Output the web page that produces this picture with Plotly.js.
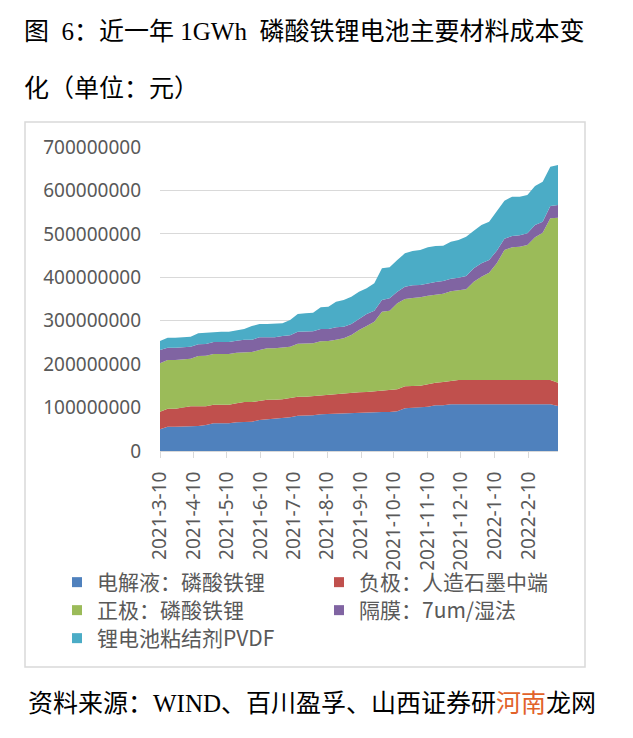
<!DOCTYPE html>
<html><head><meta charset="utf-8">
<script src="https://cdn.plot.ly/plotly-3.0.1.min.js"></script>
<style>html,body{margin:0;padding:0;background:#fff;} #chart{width:633px;height:738px;}</style>
</head><body><div id="chart"></div>
<script>
// weekly sample dates
const dates = ['2021-03-10','2021-03-17','2021-03-24','2021-03-31','2021-04-07','2021-04-14','2021-04-21','2021-04-28',
'2021-05-05','2021-05-12','2021-05-19','2021-05-26','2021-06-02','2021-06-09','2021-06-16','2021-06-23','2021-06-30',
'2021-07-07','2021-07-14','2021-07-21','2021-07-28','2021-08-04','2021-08-11','2021-08-18','2021-08-25',
'2021-09-01','2021-09-08','2021-09-15','2021-09-22','2021-09-29','2021-10-06','2021-10-13','2021-10-20','2021-10-27',
'2021-11-03','2021-11-10','2021-11-17','2021-11-24','2021-12-01','2021-12-08','2021-12-15','2021-12-22','2021-12-29',
'2022-01-05','2022-01-12','2022-01-19','2022-01-26','2022-02-02','2022-02-09','2022-02-16','2022-02-23','2022-03-02','2022-03-09'];

// 电解液：磷酸铁锂
const electrolyte = [49.9e6,56.0e6,56.0e6,56.0e6,56.0e6,57.6e6,59.9e6,63.7e6,63.7e6,63.7e6,66.0e6,67.5e6,67.5e6,71.4e6,72.9e6,72.9e6,74.4e6,
77.5e6,81.4e6,81.4e6,82.1e6,84.4e6,85.2e6,86.0e6,86.7e6,87.5e6,88.3e6,88.3e6,89.8e6,89.8e6,89.8e6,91.3e6,98.2e6,99.8e6,
99.8e6,102.1e6,105.2e6,105.2e6,107.5e6,107.5e6,107.5e6,107.5e6,107.5e6,107.5e6,107.5e6,107.5e6,107.5e6,107.5e6,107.5e6,
107.5e6,107.5e6,107.5e6,103.6e6];
// 负极：人造石墨中端
const anode = [40.7e6,41.5e6,41.5e6,44.5e6,46.8e6,45.2e6,42.9e6,43.0e6,43.0e6,43.0e6,43.8e6,45.3e6,45.3e6,44.5e6,45.3e6,45.3e6,44.6e6,
44.5e6,43.7e6,43.7e6,44.5e6,44.5e6,44.5e6,46.0e6,46.8e6,46.0e6,46.8e6,47.5e6,47.6e6,49.1e6,49.1e6,50.7e6,50.7e6,49.9e6,
50.6e6,51.4e6,52.1e6,53.7e6,54.4e6,56.0e6,56.0e6,56.0e6,56.0e6,56.0e6,56.0e6,56.0e6,56.0e6,56.0e6,56.0e6,
56.0e6,56.0e6,56.0e6,53.7e6];
// 正极：磷酸铁锂
const cathode = [111.3e6,112.0e6,112.0e6,110.6e6,109.8e6,115.9e6,116.7e6,116.6e6,116.6e6,116.6e6,116.6e6,115.2e6,115.2e6,116.7e6,118.2e6,118.2e6,119.7e6,
118.2e6,122.0e6,122.0e6,121.3e6,123.6e6,123.6e6,124.3e6,125.9e6,133.6e6,143.5e6,152.0e6,160.4e6,181.9e6,184.2e6,198.0e6,201.1e6,202.6e6,
203.4e6,204.2e6,203.4e6,203.4e6,205.7e6,205.7e6,208.7e6,226.4e6,237.9e6,247.1e6,268.6e6,299.3e6,305.4e6,307.0e6,310.8e6,
328.5e6,339.2e6,372.2e6,380.0e6];
// 隔膜：7um/湿法
const separator = [30.7e6,28.4e6,28.4e6,28.4e6,27.6e6,26.9e6,26.9e6,27.7e6,27.7e6,27.7e6,27.6e6,28.3e6,28.3e6,29.1e6,25.3e6,25.3e6,26.1e6,
26.1e6,27.7e6,27.7e6,27.6e6,28.4e6,27.6e6,28.4e6,26.9e6,25.3e6,24.6e6,27.6e6,25.0e6,26.9e6,28.4e6,26.9e6,28.4e6,29.2e6,
28.4e6,28.4e6,28.4e6,29.1e6,29.2e6,29.9e6,30.7e6,30.7e6,30.7e6,29.2e6,29.2e6,26.0e6,26.1e6,26.1e6,26.9e6,
28.4e6,25.4e6,28.4e6,29.1e6];
// 锂电池粘结剂PVDF
const binder = [20.7e6,23.1e6,23.1e6,23.0e6,23.1e6,25.3e6,26.1e6,23.8e6,23.8e6,23.8e6,24.6e6,24.6e6,31.5e6,30.7e6,30.7e6,30.7e6,29.2e6,
35.3e6,40.6e6,42.2e6,43.0e6,49.9e6,51.4e6,59.1e6,61.4e6,63.0e6,63.7e6,59.1e6,63.3e6,72.9e6,71.4e6,72.9e6,76.7e6,79.0e6,
80.6e6,82.8e6,82.9e6,81.4e6,85.2e6,86.7e6,90.6e6,86.7e6,88.3e6,88.3e6,89.8e6,87.6e6,90.6e6,89.0e6,88.3e6,
89.8e6,92.1e6,90.6e6,92.1e6];

const seriesNames = ['电解液：磷酸铁锂','负极：人造石墨中端','正极：磷酸铁锂','隔膜：7um/湿法','锂电池粘结剂PVDF'];
const tickDates = ['2021-03-10','2021-04-10','2021-05-10','2021-06-10','2021-07-10','2021-08-10','2021-09-10','2021-10-10',
'2021-11-10','2021-12-10','2022-01-10','2022-02-10'];
const tickLabels = ['2021-3-10','2021-4-10','2021-5-10','2021-6-10','2021-7-10','2021-8-10','2021-9-10','2021-10-10',
'2021-11-10','2021-12-10','2022-1-10','2022-2-10'];
const yTicks = [0,100000000,200000000,300000000,400000000,500000000,600000000,700000000];

const colors = ['#4F81BD','#C0504D','#9BBB59','#8064A2','#4BACC6'];
const series = [electrolyte, anode, cathode, separator, binder];

// pixel helpers for paper coords (plot area: x 160..558, y 147..451)
const L=160, R=558, T=147, B=451;
const px = v => (v-L)/(R-L);
const py = v => (B-v)/(B-T);

// legend slot for each series: [left px, top px]  (two columns, three rows)
const legendSlots = [[57,562],[319,562],[57,590],[319,590],[57,618]];

const traces = [];
series.forEach((vals,i)=>{
  traces.push({type:'scatter', x:dates, y:vals, stackgroup:'one', mode:'lines',
    line:{width:0, color:colors[i]}, fillcolor:colors[i], showlegend:false, hoverinfo:'skip'});
});
const legendFont = {size:21, color:'#595959', family:'Noto Sans CJK SC, sans-serif'};
const layout = {
  width:633, height:738,
  margin:{l:L, r:633-R, t:T, b:738-B, pad:0},
  paper_bgcolor:'#ffffff', plot_bgcolor:'#ffffff',
  font:{family:'Noto Sans, Noto Sans CJK SC, sans-serif', color:'#595959'},
  showlegend:true,
  xaxis:{type:'date', range:['2021-03-10','2022-03-09'], tickmode:'array', tickvals:tickDates, ticktext:tickLabels,
    tickangle:-90, ticks:'outside', ticklen:6, tickcolor:'#d9d9d9', tickwidth:1, showline:true, linecolor:'#d9d9d9', linewidth:1,
    showgrid:false, zeroline:false, tickfont:{size:19, color:'#595959', family:'Noto Sans, sans-serif'}, ticklabelstandoff:6, fixedrange:true},
  yaxis:{range:[0,700000000], tickmode:'array', tickvals:yTicks, tickformat:'d', showgrid:true, gridcolor:'#d9d9d9', gridwidth:1,
    zeroline:false, showline:false, ticks:'', tickfont:{size:19, color:'#595959', family:'Noto Sans, sans-serif'}, ticklabelstandoff:18, fixedrange:true},
  shapes:[{type:'rect', xref:'paper', yref:'paper', x0:px(25), x1:px(585), y0:py(667), y1:py(122),
    line:{color:'#d9d9d9', width:1.5}, fillcolor:'rgba(0,0,0,0)', layer:'below'}],
  annotations:[
    {xref:'paper', yref:'paper', x:px(22), y:py(32), xanchor:'left', yanchor:'middle', showarrow:false,
      text:'图\u00A0\u00A06：近一年\u00A01GWh\u00A0\u00A0磷酸铁锂电池主要材料成本变',
      font:{size:25, color:'#000000', family:'Liberation Serif, Noto Sans CJK SC, serif'}},
    {xref:'paper', yref:'paper', x:px(22), y:py(88), xanchor:'left', yanchor:'middle', showarrow:false,
      text:'化（单位：元）', font:{size:25, color:'#000000', family:'Liberation Serif, Noto Sans CJK SC, serif'}},
    {xref:'paper', yref:'paper', x:px(26), y:py(703), xanchor:'left', yanchor:'middle', showarrow:false,
      text:'资料来源：WIND、百川盈孚、山西证券研<span style="color:#E2622A">河南</span>龙网',
      font:{size:25, color:'#000000', family:'Liberation Serif, Noto Sans CJK SC, serif'}}
  ]
};
series.forEach((vals,i)=>{
  const key = i===0 ? 'legend' : 'legend'+(i+1);
  traces.push({type:'scatter', mode:'markers', x:[null], y:[null], name:seriesNames[i],
    marker:{color:colors[i], symbol:'square', size:10}, showlegend:true, legend:key, hoverinfo:'skip'});
  layout[key] = {orientation:'v', x:px(legendSlots[i][0]), xanchor:'left', y:py(legendSlots[i][1]), yanchor:'top',
    itemwidth:30, bgcolor:'rgba(0,0,0,0)', font:legendFont};
});

Plotly.newPlot('chart', traces, layout, {displayModeBar:false, staticPlot:true});
</script>
</body></html>
